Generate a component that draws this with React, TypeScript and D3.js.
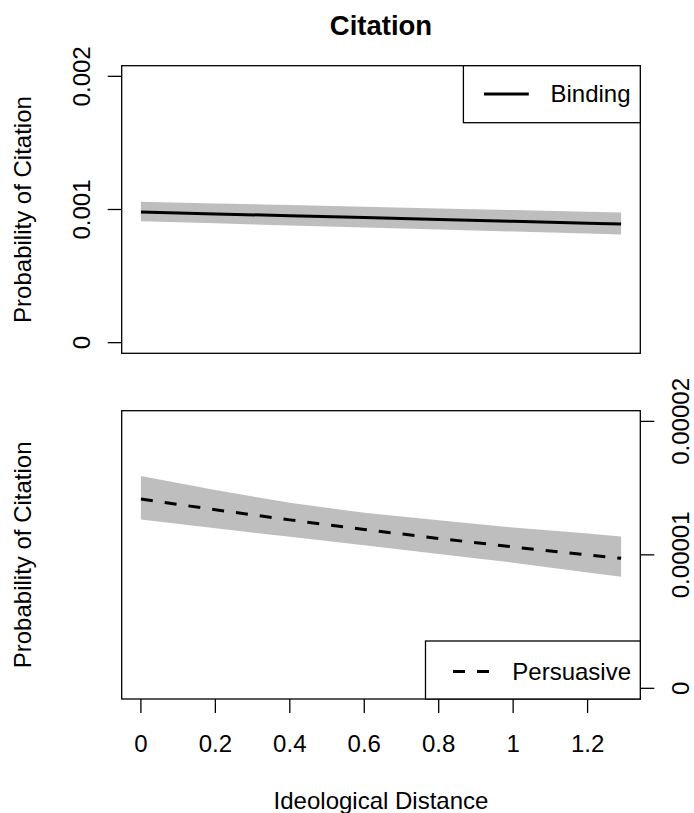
import React from "react";
import * as d3 from "d3";

// Ideological distance grid
const distance = [0, 0.2, 0.4, 0.6, 0.8, 1.0, 1.2, 1.29];

// Binding (top panel)
const bindingFit = [0.000981, 0.000967, 0.000953, 0.000939, 0.000925, 0.000911, 0.000897, 0.000891];
const bindingUpper = [0.001058, 0.001046, 0.001033, 0.001021, 0.001008, 0.000996, 0.000984, 0.000977];
const bindingLower = [0.000911, 0.000896, 0.00088, 0.000865, 0.00085, 0.000835, 0.000819, 0.000812];

// Persuasive (bottom panel)
const persuasiveFit = [1.418e-5, 1.338e-5, 1.262e-5, 1.19e-5, 1.123e-5, 1.059e-5, 0.999e-5, 0.974e-5];
const persuasiveUpper = [1.591e-5, 1.485e-5, 1.39e-5, 1.315e-5, 1.26e-5, 1.205e-5, 1.16e-5, 1.137e-5];
const persuasiveLower = [1.265e-5, 1.2e-5, 1.135e-5, 1.072e-5, 1.007e-5, 0.941e-5, 0.867e-5, 0.836e-5];

const xTicks = [0, 0.2, 0.4, 0.6, 0.8, 1.0, 1.2];
const xTickLabels = ["0", "0.2", "0.4", "0.6", "0.8", "1", "1.2"];
const topYTicks = [0, 0.001, 0.002];
const topYTickLabels = ["0", "0.001", "0.002"];
const botYTicks = [0, 0.00001, 0.00002];
const botYTickLabels = ["0", "0.00001", "0.00002"];

const title = "Citation";
const yLabel = "Probability of Citation";
const xLabel = "Ideological Distance";
const legendTop = "Binding";
const legendBottom = "Persuasive";

const FONT = "'Liberation Sans', Arial, Helvetica, sans-serif";
const FS = 24;

export default function App() {
  const W = 694;
  const H = 813;
  const left = 121.7;
  const right = 640.3;
  const top1 = 65.7, bot1 = 353.3;
  const top2 = 410.7, bot2 = 699;

  const xmin = 0, xmax = 1.29;
  const xr = xmax - xmin;
  const x = d3.scaleLinear().domain([xmin - 0.04 * xr, xmax + 0.04 * xr]).range([left, right]);
  const y1 = d3.scaleLinear().domain([-0.00008, 0.00208]).range([bot1, top1]);
  const y2 = d3.scaleLinear().domain([-0.0000008, 0.0000208]).range([bot2, top2]);

  const idx = distance.map((_, i) => i);
  const area1 = d3.area<number>().x(i => x(distance[i])).y0(i => y1(bindingLower[i])).y1(i => y1(bindingUpper[i]));
  const line1 = d3.line<number>().x(i => x(distance[i])).y(i => y1(bindingFit[i]));
  const area2 = d3.area<number>().x(i => x(distance[i])).y0(i => y2(persuasiveLower[i])).y1(i => y2(persuasiveUpper[i]));
  const line2 = d3.line<number>().x(i => x(distance[i])).y(i => y2(persuasiveFit[i]));

  const tick = 14;
  const axisW = 1.3;

  return (
    <svg width={W} height={H} style={{ position: "absolute", left: 0, top: 0, background: "#fff" }} fontFamily={FONT}>
      <rect x={0} y={0} width={W} height={H} fill="#fff" />
      {/* Title */}
      <text x={(left + right) / 2} y={34.5} textAnchor="middle" fontWeight="bold" fontSize={27.5} fill="#000">{title}</text>

      {/* Top panel */}
      <path d={area1(idx) || ""} fill="#bebebe" stroke="none" />
      <path d={line1(idx) || ""} fill="none" stroke="#000" strokeWidth={3} />
      <rect x={left} y={top1} width={right - left} height={bot1 - top1} fill="none" stroke="#000" strokeWidth={axisW} />
      {topYTicks.map((t, i) => (
        <g key={"t1" + i}>
          <line x1={left - tick} x2={left} y1={y1(t)} y2={y1(t)} stroke="#000" strokeWidth={axisW} />
          <text transform={`translate(${90},${y1(t)}) rotate(-90)`} textAnchor="middle" fontSize={FS} fill="#000">{topYTickLabels[i]}</text>
        </g>
      ))}
      <text transform={`translate(${31},${(top1 + bot1) / 2}) rotate(-90)`} textAnchor="middle" fontSize={FS} fill="#000">{yLabel}</text>
      {/* Top legend */}
      <rect x={463.4} y={top1} width={right - 463.4} height={122.7 - top1} fill="#fff" stroke="#000" strokeWidth={axisW} />
      <line x1={484} x2={528.8} y1={94} y2={94} stroke="#000" strokeWidth={3} />
      <text x={550.5} y={94} dy="0.35em" fontSize={FS} fill="#000">{legendTop}</text>

      {/* Bottom panel */}
      <path d={area2(idx) || ""} fill="#bebebe" stroke="none" />
      <path d={line2(idx) || ""} fill="none" stroke="#000" strokeWidth={3} strokeDasharray="12,12" />
      <rect x={left} y={top2} width={right - left} height={bot2 - top2} fill="none" stroke="#000" strokeWidth={axisW} />
      {botYTicks.map((t, i) => (
        <g key={"t2" + i}>
          <line x1={right} x2={right + tick} y1={y2(t)} y2={y2(t)} stroke="#000" strokeWidth={axisW} />
          <text transform={`translate(${689},${y2(t)}) rotate(-90)`} textAnchor="middle" fontSize={FS} fill="#000">{botYTickLabels[i]}</text>
        </g>
      ))}
      <text transform={`translate(${31},${(top2 + bot2) / 2}) rotate(-90)`} textAnchor="middle" fontSize={FS} fill="#000">{yLabel}</text>
      {xTicks.map((t, i) => (
        <g key={"x" + i}>
          <line x1={x(t)} x2={x(t)} y1={bot2} y2={bot2 + tick} stroke="#000" strokeWidth={axisW} />
          <text x={x(t)} y={751.5} textAnchor="middle" fontSize={FS} fill="#000">{xTickLabels[i]}</text>
        </g>
      ))}
      <text x={(left + right) / 2} y={809} textAnchor="middle" fontSize={FS} fill="#000">{xLabel}</text>
      {/* Bottom legend */}
      <rect x={425.5} y={641} width={right - 425.5} height={bot2 - 641} fill="#fff" stroke="#000" strokeWidth={axisW} />
      <line x1={453} x2={490} y1={671.5} y2={671.5} stroke="#000" strokeWidth={3} strokeDasharray="12,12" />
      <text x={512.3} y={671.5} dy="0.35em" fontSize={FS} fill="#000">{legendBottom}</text>
    </svg>
  );
}
